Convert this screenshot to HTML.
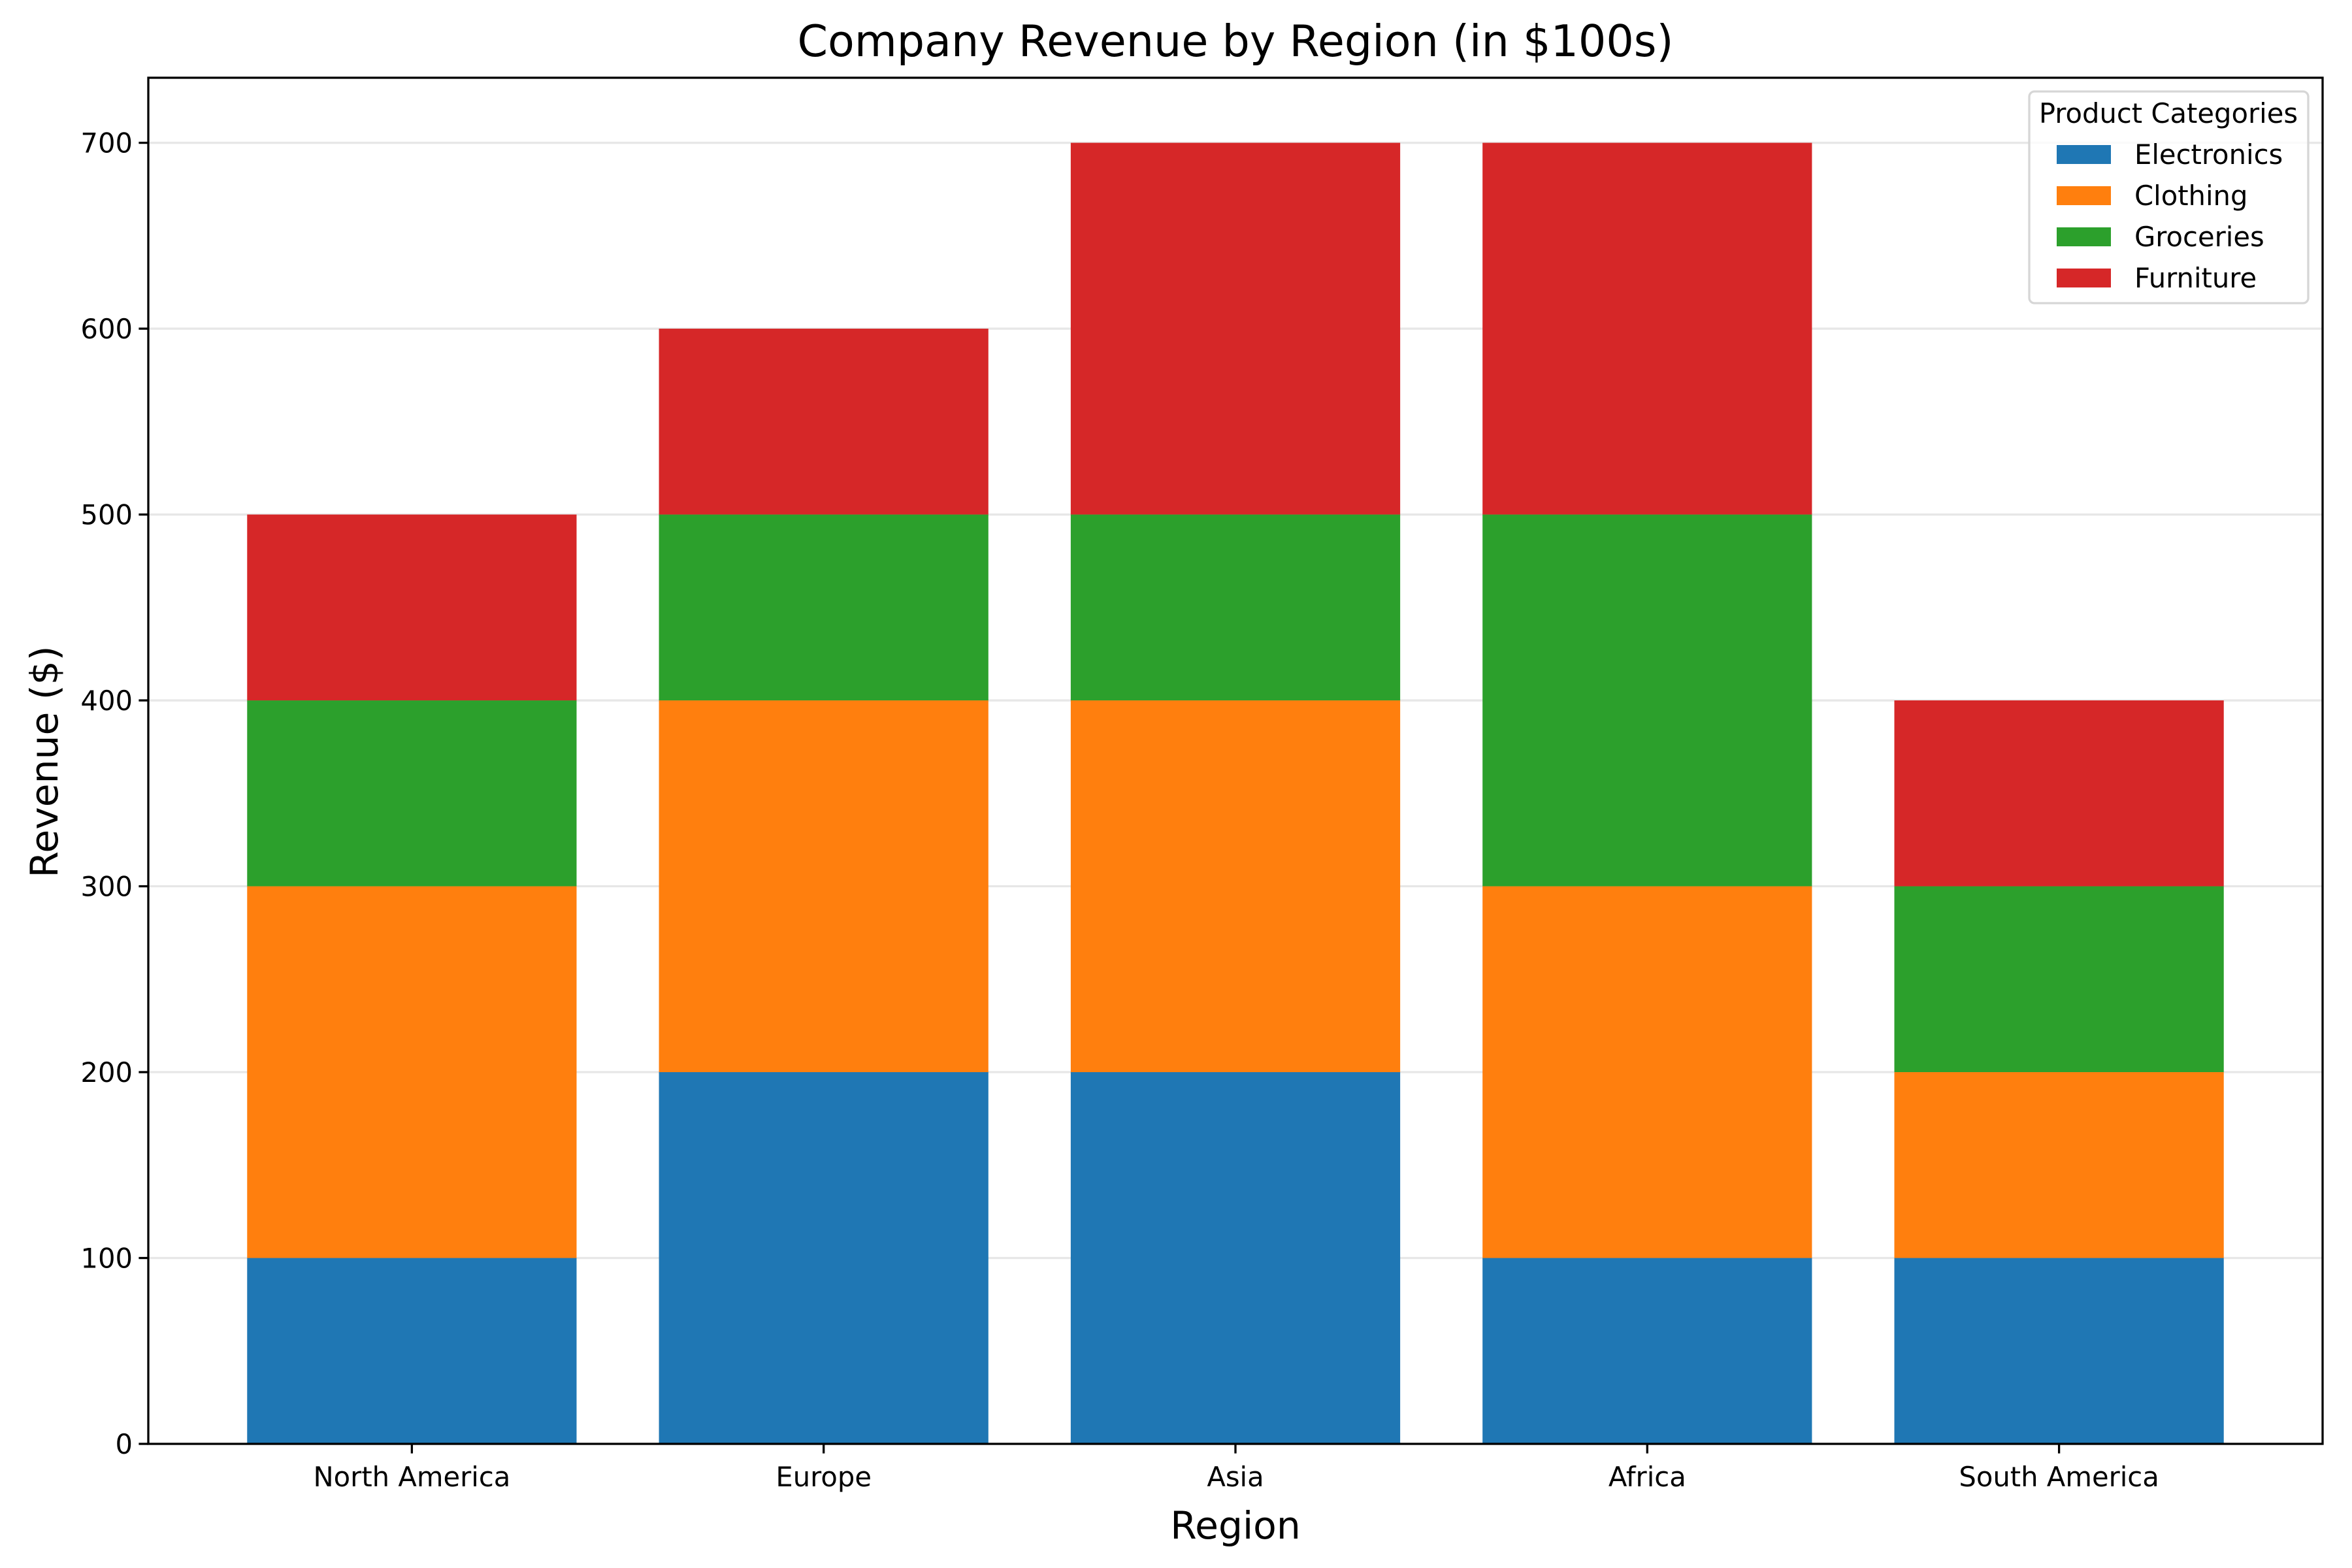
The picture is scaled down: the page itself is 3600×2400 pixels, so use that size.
<!DOCTYPE html>
<html><head><meta charset="utf-8"><style>
body{margin:0;background:#fff}
svg{display:block;font-family:"DejaVu Sans","Liberation Sans",sans-serif}
</style></head><body>
<svg id="chart" width="3600" height="2400" viewBox="0 0 3600 2400">
<rect width="3600" height="2400" fill="#fff"/>
<text x="1891" y="86" font-size="66.7" text-anchor="middle">Company Revenue by Region (in $100s)</text>
<g id="grid"></g><g id="bars"></g><g id="axes"></g>
<text x="1891" y="2355" font-size="58.3" text-anchor="middle">Region</text>
<text transform="translate(88,1166) rotate(-90)" font-size="58.3" text-anchor="middle">Revenue ($)</text>
<g id="legend">
<rect x="3106" y="140" width="427" height="324" rx="8" fill="#fff" fill-opacity="0.8" stroke="#d6d6d6" stroke-width="3.3"/>
<text x="3319" y="188" font-size="41.7" text-anchor="middle">Product Categories</text>
</g>
</svg>
<script>
const regions=["North America","Europe","Asia","Africa","South America"];
const seriesNames=["Electronics","Clothing","Groceries","Furniture"];
const electronics=[100,200,200,100,100];
const clothing=[200,200,200,200,100];
const groceries=[100,100,100,200,100];
const furniture=[100,100,200,200,100];
const yTicks=[0,100,200,300,400,500,600,700];
const colors=["#1f77b4","#ff7f0e","#2ca02c","#d62728"];
const series=[electronics,clothing,groceries,furniture];
const NS="http://www.w3.org/2000/svg";
const L=227,R=3555,B=2210,T=119,ymax=735,xmin=-0.64,xmax=4.64;
const sx=v=>L+(v-xmin)/(xmax-xmin)*(R-L);
const sy=v=>B-v/ymax*(B-T);
function mk(tag,attrs,parent){const e=document.createElementNS(NS,tag);for(const k in attrs)e.setAttribute(k,attrs[k]);parent.appendChild(e);return e;}
const grid=document.getElementById('grid'),bars=document.getElementById('bars'),axes=document.getElementById('axes'),legend=document.getElementById('legend');
yTicks.forEach(t=>{
 const g=mk('line',{x1:L,x2:R,y1:sy(t),y2:sy(t),stroke:'#b0b0b0','stroke-opacity':0.3,'stroke-width':3.3},grid);
 
 
 const tk=mk('line',{x1:L-14.6,x2:L,y1:sy(t),y2:sy(t),stroke:'#000','stroke-width':3.3},axes);
 
 
 const tx=mk('text',{x:L-24,y:sy(t)+15,'font-size':41.7,'text-anchor':'end'},axes);
 tx.textContent=t;
 
 
});
regions.forEach((r,i)=>{
 let base=0;
 series.forEach((s,j)=>{
  const b=mk('rect',{x:sx(i-0.4),width:sx(i+0.4)-sx(i-0.4),y:sy(base+s[i]),height:sy(base)-sy(base+s[i]),fill:colors[j]},bars);
  
  
  base+=s[i];
 });
 const tk=mk('line',{x1:sx(i),x2:sx(i),y1:B,y2:B+14.6,stroke:'#000','stroke-width':3.3},axes);
 
 
 const tx=mk('text',{x:sx(i),y:B+65,'font-size':41.7,'text-anchor':'middle'},axes);
 tx.textContent=r;
 
 
});
const frame=mk('rect',{x:L,y:T,width:R-L,height:B-T,fill:'none',stroke:'#000','stroke-width':3.3},axes);


seriesNames.forEach((n,j)=>{
 const y=222+j*63;
 const p=mk('rect',{x:3148,y:y,width:83,height:29,fill:colors[j]},legend);
 
 
 const t=mk('text',{x:3267,y:y+29,'font-size':41.7},legend);
 t.textContent=n;
 
 
});
</script>
</body></html>
